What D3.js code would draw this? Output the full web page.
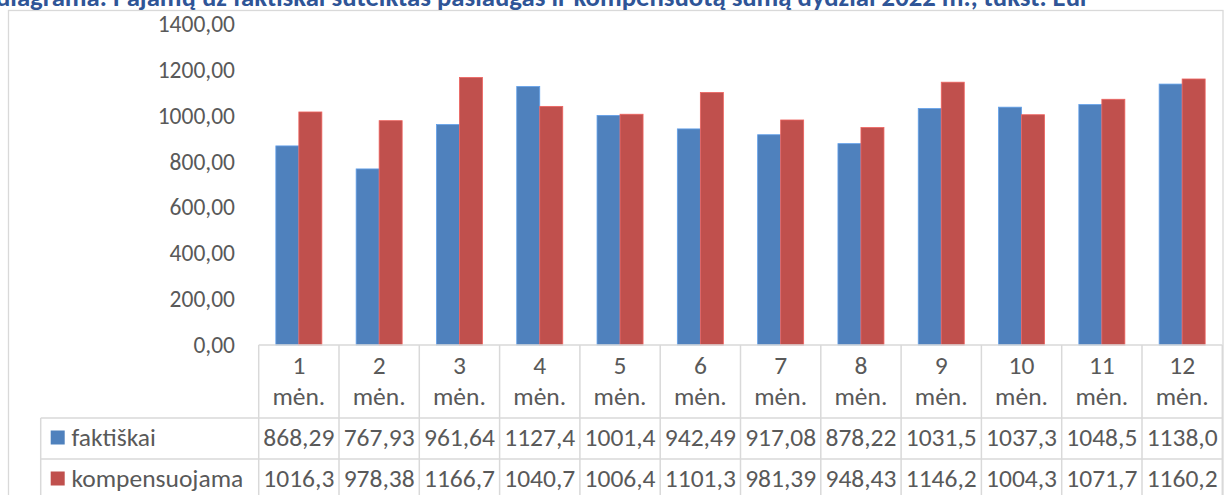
<!DOCTYPE html>
<html>
<head>
<meta charset="utf-8">
<script src="https://cdn.jsdelivr.net/npm/d3@7"></script>
<style>
  html, body { margin: 0; padding: 0; background: #fff; overflow: hidden; }
  svg { display: block; }
  text { font-family: Carlito, Lato, "Open Sans", sans-serif; }
</style>
</head>
<body>
<svg id="chart" width="1224" height="495"></svg>
<script>
const titleText = "diagrama. Pajamų už faktiškai suteiktas paslaugas ir kompensuotą sumą dydžiai 2022 m., tūkst. Eur";
const months = ["1", "2", "3", "4", "5", "6", "7", "8", "9", "10", "11", "12"];
const monthSuffix = "mėn.";
const seriesNames = ["faktiškai", "kompensuojama"];
const faktiskai = [868.29, 767.93, 961.64, 1127.4, 1001.4, 942.49, 917.08, 878.22, 1031.5, 1037.3, 1048.5, 1138.0];
const kompensuojama = [1016.3, 978.38, 1166.7, 1040.7, 1006.4, 1101.3, 981.39, 948.43, 1146.2, 1004.3, 1071.7, 1160.2];
const faktiskaiLabels = ["868,29", "767,93", "961,64", "1127,4", "1001,4", "942,49", "917,08", "878,22", "1031,5", "1037,3", "1048,5", "1138,0"];
const kompensuojamaLabels = ["1016,3", "978,38", "1166,7", "1040,7", "1006,4", "1101,3", "981,39", "948,43", "1146,2", "1004,3", "1071,7", "1160,2"];
const yTicks = [0, 200, 400, 600, 800, 1000, 1200, 1400];

const colors = ["#4F81BD", "#C0504D"];
const textColor = "#595959";
const lineColor = "#D9D9D9";
const tableFont = 25.5;

const svg = d3.select("#chart");

// chart area border
svg.append("rect")
  .attr("x", 8.5).attr("y", 10.5).attr("width", 1214.5).attr("height", 500)
  .attr("fill", "none").attr("stroke", lineColor).attr("stroke-width", 1.3);

// title (clipped at top, as in the reference)
const title = svg.append("text")
  .attr("x", -4).attr("y", 6)
  .attr("fill", "#2F5597")
  .attr("font-weight", "bold")
  .attr("font-size", 22)
  .text(titleText);
const tl = title.node().getComputedTextLength();
title.attr("font-size", 22 * 1094 / tl);

const plotLeft = 258.7, plotRight = 1222.3;
const yZero = 345, yTop = 24;

const x = d3.scaleBand().domain(months).range([plotLeft, plotRight])
  .paddingInner(0.427).paddingOuter(0.2135);
const xs = d3.scaleBand().domain(seriesNames).range([0, x.bandwidth()]);
const y = d3.scaleLinear().domain([0, 1400]).range([yZero, yTop]);
const step = x.step();

// y axis labels
const yAxis = d3.axisLeft(y).tickValues(yTicks).tickSize(0).tickPadding(0)
  .tickFormat(d => d3.format(".2f")(d).replace(".", ","));
const ya = svg.append("g").attr("transform", "translate(235,0)").call(yAxis);
ya.select(".domain").remove();
ya.selectAll("text").attr("fill", textColor).attr("font-size", 23.5)
  .style("font-family", "Carlito, Lato, 'Open Sans', sans-serif");

// bars
const series = [faktiskai, kompensuojama];
series.forEach((vals, si) => {
  svg.append("g").selectAll("rect").data(vals).join("rect")
    .attr("x", (d, i) => x(months[i]) + xs(seriesNames[si]))
    .attr("y", d => y(d))
    .attr("width", xs.bandwidth())
    .attr("height", d => y(0) - y(d))
    .attr("fill", colors[si])
    .attr("stroke", d3.color(colors[si]).brighter(0.6))
    .attr("stroke-width", 0.8);
});

// data table
const tbl = svg.append("g").attr("stroke", lineColor).attr("stroke-width", 1.5);
const rowTop = 345, rowHead = 418, rowF = 459, rowEnd = 500;
const legendLeft = 40.7;
tbl.append("line").attr("x1", plotLeft).attr("x2", plotRight).attr("y1", rowTop).attr("y2", rowTop);
tbl.append("line").attr("x1", legendLeft).attr("x2", plotRight).attr("y1", rowHead).attr("y2", rowHead);
tbl.append("line").attr("x1", legendLeft).attr("x2", plotRight).attr("y1", rowF).attr("y2", rowF);
tbl.append("line").attr("x1", legendLeft).attr("x2", legendLeft).attr("y1", rowHead).attr("y2", rowEnd);
d3.range(months.length + 1).forEach(k => {
  const xx = plotLeft + k * step;
  tbl.append("line").attr("x1", xx).attr("x2", xx).attr("y1", rowTop).attr("y2", rowEnd);
});

const cx = m => x(m) + x.bandwidth() / 2;
const hdr = svg.append("g").attr("fill", textColor).attr("font-size", tableFont).attr("text-anchor", "middle");
months.forEach(m => {
  hdr.append("text").attr("x", cx(m)).attr("y", 374).text(m);
  hdr.append("text").attr("x", cx(m)).attr("y", 405).text(monthSuffix);
});

const rowBase = [446, 487];
const rowLabels = [faktiskaiLabels, kompensuojamaLabels];
rowLabels.forEach((labels, si) => {
  const g = svg.append("g").attr("fill", textColor).attr("font-size", tableFont).attr("text-anchor", "middle");
  labels.forEach((l, i) => {
    g.append("text").attr("x", cx(months[i])).attr("y", rowBase[si]).text(l);
  });
  svg.append("rect").attr("x", 50.7).attr("y", rowBase[si] - 15.5)
    .attr("width", 14).attr("height", 14).attr("fill", colors[si]);
  svg.append("text").attr("x", 71.5).attr("y", rowBase[si])
    .attr("fill", textColor).attr("font-size", tableFont).text(seriesNames[si]);
});
</script>
</body>
</html>
